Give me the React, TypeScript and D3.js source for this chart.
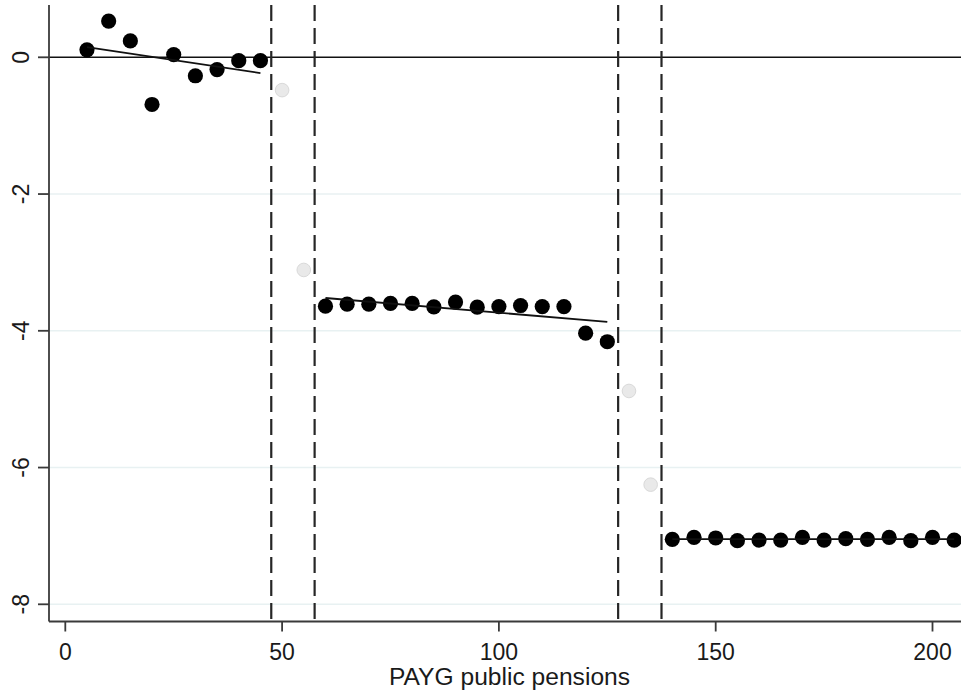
import React from "react";
import * as d3 from "d3";

const W = 961;
const H = 692;

const xTicks = [0, 50, 100, 150, 200];
const yTicks = [0, -2, -4, -6, -8];
const gridTicks = [-2, -4, -6, -8];

const seg1X = [5, 10, 15, 20, 25, 30, 35, 40, 45];
const seg1Y = [0.11, 0.53, 0.24, -0.69, 0.04, -0.27, -0.18, -0.05, -0.05];

const seg2X = [60, 65, 70, 75, 80, 85, 90, 95, 100, 105, 110, 115, 120, 125];
const seg2Y = [-3.64, -3.61, -3.61, -3.6, -3.6, -3.65, -3.58, -3.655, -3.645, -3.63, -3.645, -3.645, -4.035, -4.16];

const seg3X = [140, 145, 150, 155, 160, 165, 170, 175, 180, 185, 190, 195, 200, 205];
const seg3Y = [-7.05, -7.02, -7.03, -7.07, -7.06, -7.06, -7.02, -7.06, -7.04, -7.05, -7.02, -7.07, -7.02, -7.06];

const greyX = [50, 55, 130, 135];
const greyY = [-0.48, -3.11, -4.88, -6.25];

const fitX0 = [5, 60, 140];
const fitY0 = [0.15, -3.52, -7.047];
const fitX1 = [45, 125, 205];
const fitY1 = [-0.23, -3.87, -7.047];

const cutoffs = [47.5, 57.5, 127.5, 137.5];

const xTitle = "PAYG public pensions";

export default function App() {
  const x = d3.scaleLinear().domain([0, 200]).range([65.3, 932.5]);
  const y = d3.scaleLinear().domain([0, -8]).range([57.3, 604.3]);

  const left = 49;
  const top = 5;
  const bottom = 621.5;
  const right = W;

  const black = [
    ...seg1X.map((v, i) => [v, seg1Y[i]]),
    ...seg2X.map((v, i) => [v, seg2Y[i]]),
    ...seg3X.map((v, i) => [v, seg3Y[i]]),
  ];
  const line = d3.line<[number, number]>().x((d) => x(d[0])).y((d) => y(d[1]));
  const font = "'Liberation Sans', Arial, sans-serif";

  return (
    <svg
      width={W}
      height={H}
      style={{ position: "absolute", left: 0, top: 0, background: "#fff" }}
      fontFamily={font}
    >
      <rect x={0} y={0} width={W} height={H} fill="#fff" />
      {gridTicks.map((t) => (
        <line key={"g" + t} x1={left} x2={right} y1={y(t)} y2={y(t)} stroke="#e8f1f2" strokeWidth={1.6} />
      ))}
      <line x1={left} x2={right} y1={y(0)} y2={y(0)} stroke="#111" strokeWidth={1.6} />
      {cutoffs.map((c) => (
        <line
          key={"c" + c}
          x1={x(c)}
          x2={x(c)}
          y1={top}
          y2={bottom}
          stroke="#262626"
          strokeWidth={2.2}
          strokeDasharray="16 7"
        />
      ))}
      {greyX.map((v, i) => (
        <circle key={"gr" + i} cx={x(v)} cy={y(greyY[i])} r={6.8} fill="#e9e9e9" stroke="#d9d9d9" strokeWidth={1} />
      ))}
      {black.map((d, i) => (
        <circle key={"b" + i} cx={x(d[0])} cy={y(d[1])} r={7.6} fill="#000" />
      ))}
      {fitX0.map((v, i) => (
        <path
          key={"f" + i}
          d={line([[v, fitY0[i]], [fitX1[i], fitY1[i]]]) || ""}
          stroke="#111"
          strokeWidth={1.8}
          fill="none"
        />
      ))}
      <line x1={left} x2={left} y1={top} y2={bottom} stroke="#3a3a3a" strokeWidth={1.8} />
      <line x1={left} x2={right} y1={bottom} y2={bottom} stroke="#3a3a3a" strokeWidth={1.8} />
      {yTicks.map((t) => (
        <g key={"yt" + t}>
          <line x1={left - 11} x2={left} y1={y(t)} y2={y(t)} stroke="#3a3a3a" strokeWidth={1.8} />
          <text
            transform={`translate(29,${y(t)}) rotate(-90)`}
            textAnchor="middle"
            fontSize={23}
            fill="#1a1a1a"
          >
            {t}
          </text>
        </g>
      ))}
      {xTicks.map((t) => (
        <g key={"xt" + t}>
          <line x1={x(t)} x2={x(t)} y1={bottom} y2={bottom + 10} stroke="#3a3a3a" strokeWidth={1.8} />
          <text x={x(t)} y={660} textAnchor="middle" fontSize={23} fill="#1a1a1a">
            {t}
          </text>
        </g>
      ))}
      <text x={509.5} y={685} textAnchor="middle" fontSize={24.6} fill="#1a1a1a">
        {xTitle}
      </text>
    </svg>
  );
}
